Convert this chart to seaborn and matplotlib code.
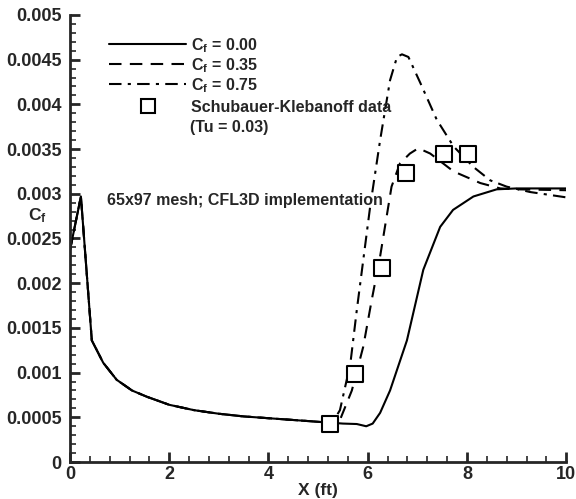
import numpy as np
import pandas as pd
import seaborn as sns
import matplotlib.pyplot as plt
from matplotlib.ticker import MultipleLocator
from matplotlib.lines import Line2D

#%% data (Cf in units of 1e-3)
lam_x = [0.0, 0.22, 0.44, 0.67, 0.94, 1.25, 1.55, 2.0, 2.5, 3.0, 3.5, 4.0, 4.5, 5.0]
lam_y = [2.37, 2.97, 1.36, 1.11, 0.92, 0.80, 0.73, 0.64, 0.58, 0.54, 0.51, 0.49, 0.47, 0.45]

c000_x = [5.5, 5.78, 5.97, 6.1, 6.25, 6.45, 6.79, 7.12, 7.46, 7.72, 8.13, 8.6, 9.0, 10.0]
c000_y = [0.43, 0.425, 0.40, 0.43, 0.55, 0.80, 1.36, 2.15, 2.63, 2.82, 2.97, 3.05, 3.06, 3.06]

c035_x = [5.3, 5.44, 5.68, 5.91, 6.08, 6.25, 6.48, 6.65, 6.85, 7.02, 7.26, 7.73, 8.27, 8.67, 9.0, 10.0]
c035_y = [0.44, 0.47, 0.80, 1.29, 1.81, 2.30, 3.08, 3.34, 3.45, 3.51, 3.45, 3.25, 3.12, 3.06, 3.05, 3.04]

c075_x = [5.2, 5.31, 5.44, 5.65, 5.78, 6.05, 6.25, 6.45, 6.59, 6.69, 6.82, 7.06, 7.39, 7.73, 8.13, 8.47, 8.8, 9.27, 10.0]
c075_y = [0.44, 0.46, 0.58, 1.10, 1.70, 2.86, 3.60, 4.27, 4.53, 4.56, 4.53, 4.24, 3.83, 3.53, 3.30, 3.15, 3.08, 3.02, 2.96]

exp_x = [5.23, 5.75, 6.28, 6.77, 7.53, 8.03]
exp_y = [0.425, 0.99, 2.17, 3.23, 3.45, 3.45]

line_labels = [r'C$_\mathbf{f}$ = 0.00', r'C$_\mathbf{f}$ = 0.35', r'C$_\mathbf{f}$ = 0.75']
exp_label = 'Schubauer-Klebanoff data'

#%% build frames
def curve(x, y, name):
    xs = [v for v in lam_x if v < x[0]] + list(x)
    ys = [lam_y[i] for i, v in enumerate(lam_x) if v < x[0]] + list(y)
    return pd.DataFrame({'x': xs, 'cf': np.array(ys) * 1e-3, 'case': name})

df_000 = curve(c000_x, c000_y, 'c000')
df_035 = curve(c035_x, c035_y, 'c035')
df_075 = curve(c075_x, c075_y, 'c075')
df_exp = pd.DataFrame({'x': exp_x, 'cf': np.array(exp_y) * 1e-3})

#%% style
sns.set_style('ticks')
plt.rcParams['font.family'] = ['Liberation Sans', 'DejaVu Sans']
plt.rcParams['font.weight'] = 'bold'
plt.rcParams['mathtext.fontset'] = 'custom'
plt.rcParams['mathtext.rm'] = 'Liberation Sans:bold'
plt.rcParams['mathtext.bf'] = 'Liberation Sans:bold'
plt.rcParams['mathtext.it'] = 'Liberation Sans:bold'

fig = plt.figure(figsize=(5.76, 4.99), dpi=100)
ax = fig.add_axes([0.1215, 0.0741, 0.8615, 0.8959])

lw = 1.5
dash = (0, (6, 4))
dashdot = (0, (6, 3, 1.5, 3))
sns.lineplot(data=df_000, x='x', y='cf', ax=ax, color='black', lw=lw, sort=False)
sns.lineplot(data=df_035, x='x', y='cf', ax=ax, color='black', lw=lw, sort=False, linestyle=dash)
sns.lineplot(data=df_075, x='x', y='cf', ax=ax, color='black', lw=lw, sort=False, linestyle=dashdot)
sns.scatterplot(data=df_exp, x='x', y='cf', ax=ax, marker='s', s=120,
                facecolor='white', edgecolor='black', linewidth=1.5, zorder=5)

ax.set_xlim(0, 10)
ax.set_ylim(0, 0.005)
ax.xaxis.set_major_locator(MultipleLocator(2))
ax.xaxis.set_minor_locator(MultipleLocator(0.4))
ax.yaxis.set_major_locator(MultipleLocator(0.0005))
ax.yaxis.set_minor_locator(MultipleLocator(0.0001))
ax.yaxis.set_major_formatter(plt.FuncFormatter(lambda v, p: '0' if v == 0 else f'{v:.4f}'.rstrip('0')))
ax.tick_params(which='major', direction='in', length=7, width=2, labelsize=13, pad=3)
ax.tick_params(axis='y', which='major', pad=6)
ax.tick_params(which='minor', direction='in', length=4, width=1.2)
for s in ['left', 'bottom']:
    ax.spines[s].set_linewidth(2)
sns.despine(ax=ax)

ax.set_xlabel('X (ft)', fontsize=12.5, fontweight='bold', labelpad=0)
ax.set_ylabel(r'C$_\mathbf{f}$', fontsize=12.5, fontweight='bold', rotation=0,
              ha='center', va='center')
ax.yaxis.set_label_coords(-0.065, 0.55)

# legend: three curves, then the data marker as its own entry
leg_kw = dict(frameon=False, handlelength=4.8, labelspacing=0.08, handletextpad=0.3,
              prop={'size': 11.5, 'weight': 'bold'})
line_handles = [Line2D([], [], color='black', lw=lw),
                Line2D([], [], color='black', lw=lw, linestyle=dash),
                Line2D([], [], color='black', lw=lw, linestyle=dashdot)]
leg1 = ax.legend(line_handles, line_labels, loc='upper left', bbox_to_anchor=(0.05, 0.985), **leg_kw)
ax.add_artist(leg1)
sq = Line2D([], [], color='black', lw=0, marker='s', markersize=10.5,
            markerfacecolor='white', markeredgewidth=1.5)
ax.legend([sq], [exp_label], loc='center left', bbox_to_anchor=(0.05, 0.794), **leg_kw)

ax.text(0.242, 0.749, '(Tu = 0.03)', transform=ax.transAxes, fontsize=11.5,
        fontweight='bold', va='center')
ax.text(0.075, 0.585, '65x97 mesh; CFL3D implementation', transform=ax.transAxes,
        fontsize=11.5, fontweight='bold', va='center')

fig.savefig('out.png', dpi=100)
